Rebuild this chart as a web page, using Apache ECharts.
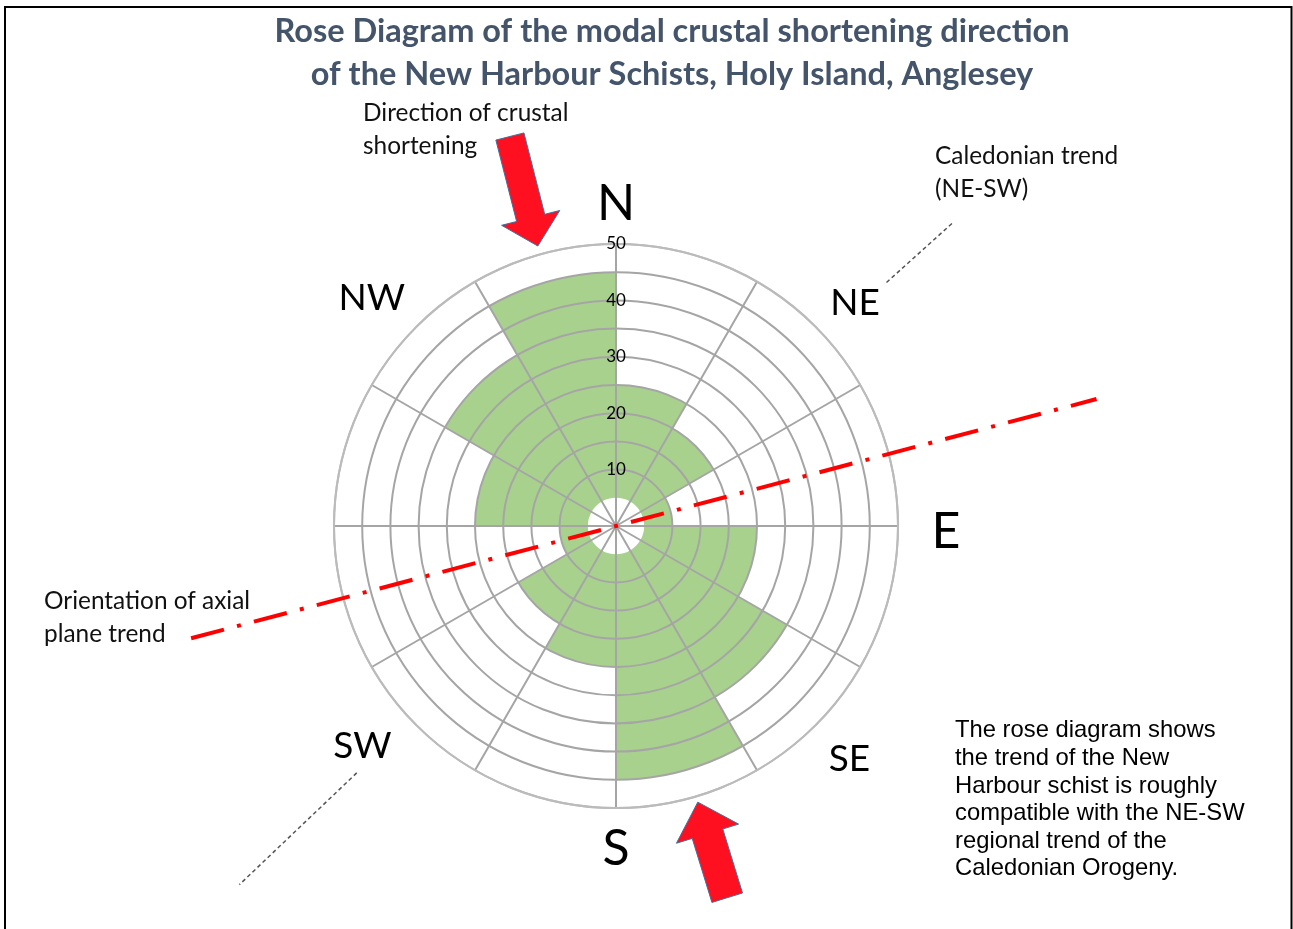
<!DOCTYPE html>
<html>
<head>
<meta charset="utf-8">
<title>Rose Diagram - New Harbour Schists</title>
<script src="https://cdn.jsdelivr.net/npm/echarts@6/dist/echarts.min.js"></script>
<style>
  html, body { margin: 0; padding: 0; background: #fff; }
  #rose { width: 1293px; height: 929px; }
</style>
</head>
<body>
<div id="rose"></div>
<script>
// 30 degree sectors, clockwise from north
var sectors = ['000-030', '030-060', '060-090', '090-120', '120-150', '150-180',
  '180-210', '210-240', '240-270', '270-300', '300-330', '330-360']
var counts = [25, 20, 10, 25, 35, 45, 25, 20, 10, 25, 35, 45]
var holeValue = 5 // petals start at the 5 ring, leaves the white hole in the middle
var radiusTicks = [10, 20, 30, 40, 50]
var compassLabels = ['N', 'NE', 'E', 'SE', 'S', 'SW', 'NW']

var CX = 616
var CY = 526
var R = 282

function pt(bearing, r) {
  var a = bearing * Math.PI / 180
  return [CX + r * Math.sin(a), CY - r * Math.cos(a)]
}

// block arrow polygon, tip first
function arrow(tip, bearing, len, shaftW, headW, headL) {
  var a = bearing * Math.PI / 180
  var d = [Math.sin(a), -Math.cos(a)]
  var n = [Math.cos(a), Math.sin(a)]
  function at(back, side) {
    return [tip[0] - d[0] * back + n[0] * side, tip[1] - d[1] * back + n[1] * side]
  }
  return [tip, at(headL, headW / 2), at(headL, shaftW / 2), at(len, shaftW / 2),
    at(len, -shaftW / 2), at(headL, -shaftW / 2), at(headL, -headW / 2)]
}

// where the compass letters sit: [bearing, radius, size]
var compassPos = {
  N: [0, 322, 50], NE: [47, 327, 37], E: [91, 330, 50], SE: [135, 330, 37],
  S: [180, 323, 50], SW: [229, 336, 37], NW: [313, 334, 37]
}

var ringColors = []
for (var v = 0; v <= 50; v += 5) {
  ringColors.push(v <= holeValue ? 'rgba(0,0,0,0)' : (v === 50 ? '#BBBBBB' : '#A5A5A5'))
}

var graphics = []
// frame
graphics.push({
  type: 'rect', z: 0, silent: true,
  shape: { x: 5, y: 7, width: 1286.5, height: 950 },
  style: { fill: 'none', stroke: '#000', lineWidth: 2 }
})
compassLabels.forEach(function (c) {
  var p = compassPos[c]
  var xy = pt(p[0], p[1])
  graphics.push({
    type: 'text', z: 10, silent: true,
    style: { text: c, x: xy[0], y: xy[1], align: 'center', verticalAlign: 'middle',
      fontFamily: 'Lato', fontSize: p[2], fill: '#000' }
  })
})

function note(text, x, yTop) {
  graphics.push({
    type: 'text', z: 10, silent: true,
    style: { text: text, x: x, y: yTop, align: 'left', verticalAlign: 'top',
      fontFamily: 'Lato', fontSize: 24.4, lineHeight: 33, fill: '#111' }
  })
}
note('Direction of crustal\nshortening', 363, 97)
note('Caledonian trend\n(NE-SW)', 935, 140)
note('Orientation of axial\nplane trend', 44, 585)

graphics.push({
  type: 'text', z: 10, silent: true,
  style: {
    text: 'The rose diagram shows\nthe trend of the New\nHarbour schist is roughly\ncompatible with the NE-SW\nregional trend of the\nCaledonian Orogeny.',
    x: 955, y: 717, align: 'left', verticalAlign: 'top',
    fontFamily: 'Liberation Sans', fontSize: 23.8, lineHeight: 27.6, fill: '#000'
  }
})

// Caledonian trend guides (NE-SW)
;[[48, 364, 453], [226.4, 358, 520]].forEach(function (g) {
  var a = pt(g[0], g[1])
  var b = pt(g[0], g[2])
  graphics.push({
    type: 'line', z: 10, silent: true,
    shape: { x1: a[0], y1: a[1], x2: b[0], y2: b[1] },
    style: { stroke: '#555', lineWidth: 1.5, lineDash: [4, 3] }
  })
})

// axial plane trend, dash-dot through the centre
var axialBearing = 75.2
var leftLen = 452
var dashPat = [4, 13.5, 34, 13.5]
var period = 65
var p1 = pt(axialBearing + 180, leftLen)
var p2 = pt(axialBearing, 497)
graphics.push({
  type: 'line', z: 12, silent: true,
  shape: { x1: p1[0], y1: p1[1], x2: p2[0], y2: p2[1] },
  style: { stroke: '#FF0000', lineWidth: 4, lineCap: 'butt', lineDash: dashPat,
    lineDashOffset: ((2 - leftLen) % period + period) % period }
})

// shortening arrows
graphics.push({
  type: 'polygon', z: 12, silent: true,
  shape: { points: arrow(pt(344.4, 290.7), 165.7, 113, 29, 60, 29) },
  style: { fill: '#FF1020', stroke: '#41719C', lineWidth: 1 }
})
graphics.push({
  type: 'polygon', z: 12, silent: true,
  shape: { points: arrow(pt(163.5, 288), 342.9, 100, 32, 65, 33) },
  style: { fill: '#FF1020', stroke: '#41719C', lineWidth: 1 }
})

var chart = echarts.init(document.getElementById('rose'))
chart.setOption({
  backgroundColor: '#fff',
  animation: false,
  textStyle: { fontFamily: 'Lato' },
  title: {
    text: 'Rose Diagram of the modal crustal shortening direction\nof the New Harbour Schists, Holy Island, Anglesey',
    left: 667,
    top: 5,
    textAlign: 'center',
    textStyle: { fontFamily: 'Lato', fontWeight: 'bold', fontSize: 32.5, lineHeight: 43, color: '#44546A' }
  },
  polar: { center: [CX, CY], radius: R },
  angleAxis: {
    type: 'category',
    data: sectors,
    startAngle: 90,
    clockwise: true,
    boundaryGap: true,
    z: 3,
    axisLine: { show: true, lineStyle: { color: '#BBBBBB', width: 2 } },
    axisTick: { show: false },
    axisLabel: { show: false },
    splitLine: { show: true, lineStyle: { color: '#A5A5A5', width: 2 } }
  },
  radiusAxis: {
    type: 'value',
    min: 0,
    max: 50,
    interval: 5,
    z: 3,
    axisLine: { show: false },
    axisTick: { show: false },
    axisLabel: {
      formatter: function (val) {
        return radiusTicks.indexOf(val) >= 0 ? String(val) : ''
      },
      margin: 0,
      align: 'center',
      verticalAlign: 'middle',
      fontSize: 17,
      color: '#000'
    },
    splitLine: { show: true, lineStyle: { color: ringColors, width: 2 } }
  },
  series: [
    {
      type: 'bar',
      coordinateSystem: 'polar',
      stack: 'rose',
      barCategoryGap: '0%',
      silent: true,
      itemStyle: { color: 'rgba(0,0,0,0)' },
      data: counts.map(function () { return holeValue })
    },
    {
      type: 'bar',
      coordinateSystem: 'polar',
      stack: 'rose',
      barCategoryGap: '0%',
      itemStyle: { color: '#A9D18E' },
      data: counts.map(function (c) { return c - holeValue })
    }
  ],
  graphic: graphics
})
</script>
</body>
</html>
